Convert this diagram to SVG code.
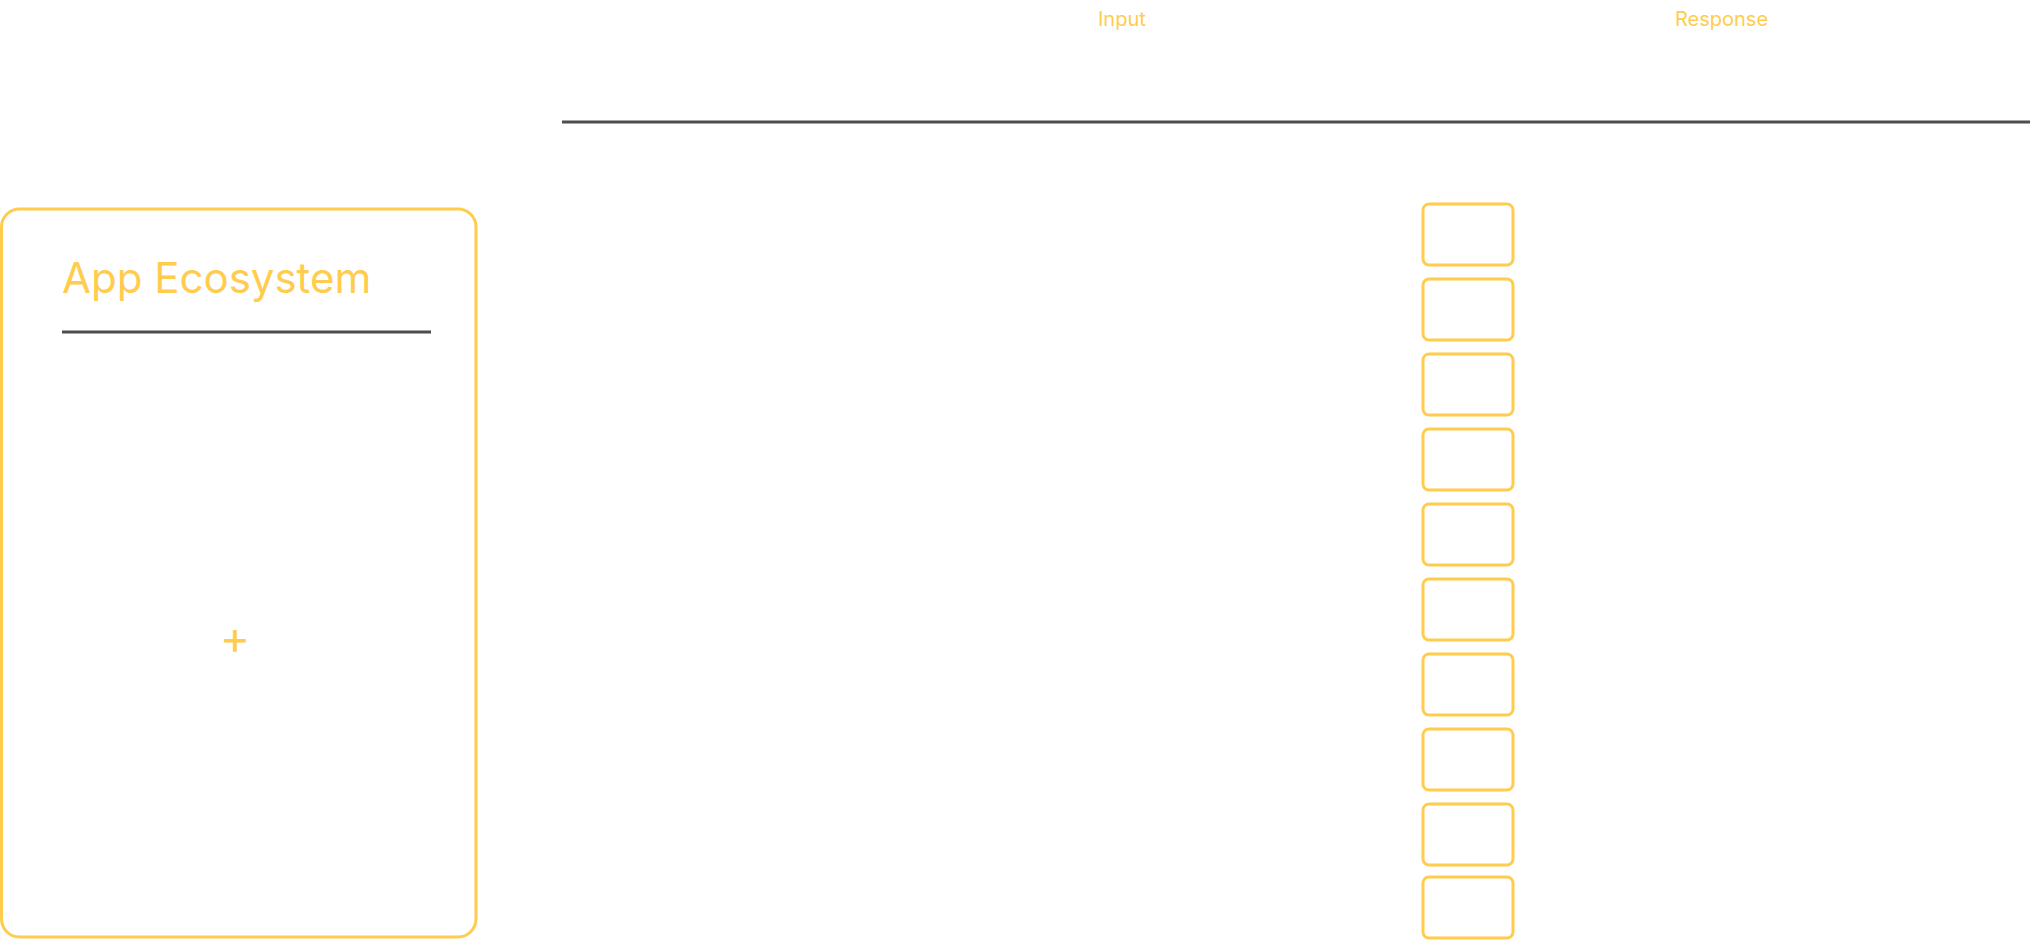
<svg xmlns="http://www.w3.org/2000/svg" width="2042" height="941" viewBox="0 0 2042 941">
<style>
.y{fill:none;stroke:#FFCC4D;stroke-width:3}
.d{stroke:#4D4D4D;stroke-width:3}
.t{fill:#FFCC4D;font-family:Inter,"Liberation Sans",sans-serif}
</style>
<rect width="2042" height="941" fill="#ffffff"/>
<g id="labels">
<text class="t" x="1098" y="26" font-size="20">Input</text>
<text class="t" x="1675" y="26" font-size="20">Response</text>
</g>
<g id="connectors">
<line class="d" x1="562" y1="122" x2="2030" y2="122"/>
</g>
<g id="app-ecosystem">
<rect class="y" x="1.5" y="209" width="474.5" height="728" rx="18"/>
<text class="t" x="62" y="293" font-size="42">App Ecosystem</text>
<line class="d" x1="62" y1="332" x2="431" y2="332"/>
<text class="t" x="235" y="654" font-size="46" text-anchor="middle">+</text>
</g>
<g id="responses">
<rect class="y" x="1423" y="204" width="90" height="61" rx="6"/>
<rect class="y" x="1423" y="279" width="90" height="61" rx="6"/>
<rect class="y" x="1423" y="354" width="90" height="61" rx="6"/>
<rect class="y" x="1423" y="429" width="90" height="61" rx="6"/>
<rect class="y" x="1423" y="504" width="90" height="61" rx="6"/>
<rect class="y" x="1423" y="579" width="90" height="61" rx="6"/>
<rect class="y" x="1423" y="654" width="90" height="61" rx="6"/>
<rect class="y" x="1423" y="729" width="90" height="61" rx="6"/>
<rect class="y" x="1423" y="804" width="90" height="61" rx="6"/>
<rect class="y" x="1423" y="877" width="90" height="61" rx="6"/>
</g>
</svg>
